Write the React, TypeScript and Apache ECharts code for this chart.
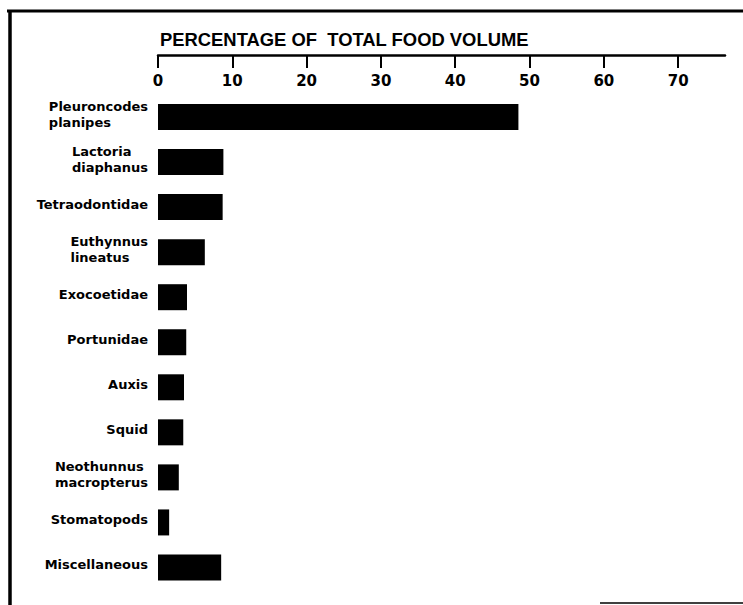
import React, { useEffect, useRef } from "react";
import * as echarts from "echarts";

const categories: string[] = [
  "Pleuroncodes\nplanipes",
  "Lactoria\ndiaphanus",
  "Tetraodontidae",
  "Euthynnus\nlineatus",
  "Exocoetidae",
  "Portunidae",
  "Auxis",
  "Squid",
  "Neothunnus\nmacropterus",
  "Stomatopods",
  "Miscellaneous",
];

const percentValues: number[] = [48.5, 8.8, 8.7, 6.3, 3.9, 3.8, 3.5, 3.4, 2.8, 1.5, 8.5];

const tickValues: number[] = [0, 10, 20, 30, 40, 50, 60, 70];

const titleText = "PERCENTAGE OF  TOTAL FOOD VOLUME";

export default function App() {
  const ref = useRef<HTMLDivElement>(null);

  useEffect(() => {
    if (!ref.current) return;
    const chart = echarts.init(ref.current, null, { renderer: "svg" });
    const labelFont = "DejaVu Sans";
    chart.setOption({
      animation: false,
      backgroundColor: "#ffffff",
      title: {
        text: titleText,
        left: 155,
        top: 25,
        textStyle: {
          fontFamily: "Liberation Sans",
          fontSize: 18.4,
          fontWeight: "bold",
          color: "#000",
          lineHeight: 18,
        },
      },
      grid: {
        left: 158,
        right: 18,
        top: 94.5,
        bottom: 15,
        containLabel: false,
      },
      xAxis: {
        type: "value",
        position: "top",
        offset: 39.5,
        min: 0,
        max: 76.3,
        interval: 10,
        splitLine: { show: false },
        axisLine: { show: true, lineStyle: { color: "#000", width: 2.5 } },
        axisTick: {
          show: true,
          inside: true,
          length: 13,
          customValues: tickValues,
          lineStyle: { color: "#000", width: 2 },
        },
        axisLabel: {
          show: true,
          inside: true,
          margin: 18,
          customValues: tickValues,
          fontFamily: labelFont,
          fontSize: 15,
          fontWeight: "bold",
          color: "#000",
        },
      },
      yAxis: {
        type: "category",
        inverse: true,
        data: categories,
        axisLine: { show: false },
        axisTick: { show: false },
        splitLine: { show: false },
        axisLabel: {
          margin: 10,
          align: "right",
          padding: [0, 0, 5, 0],
          formatter: (v: string) =>
            v
              .split("\n")
              .map((s) => `{l|${s}}`)
              .join("\n"),
          rich: {
            l: {
              align: "left",
              fontFamily: labelFont,
              fontSize: 13,
              fontWeight: "bold",
              color: "#000",
              lineHeight: 16,
            },
          },
        },
      },
      series: [
        {
          type: "bar",
          data: percentValues,
          barWidth: 26,
          itemStyle: { color: "#000" },
          silent: true,
        },
      ],
      graphic: [
        {
          type: "line",
          shape: { x1: 7, y1: 11, x2: 743, y2: 11 },
          style: { stroke: "#000", lineWidth: 3 },
          silent: true,
        },
        {
          type: "line",
          shape: { x1: 10, y1: 10, x2: 10, y2: 605 },
          style: { stroke: "#000", lineWidth: 3.5 },
          silent: true,
        },
        {
          type: "line",
          shape: { x1: 600, y1: 603, x2: 743, y2: 603 },
          style: { stroke: "#000", lineWidth: 1.5 },
          silent: true,
        },
      ],
    });
    return () => chart.dispose();
  }, []);

  return (
    <div
      ref={ref}
      style={{ position: "absolute", left: 0, top: 0, width: 743, height: 605 }}
    />
  );
}
